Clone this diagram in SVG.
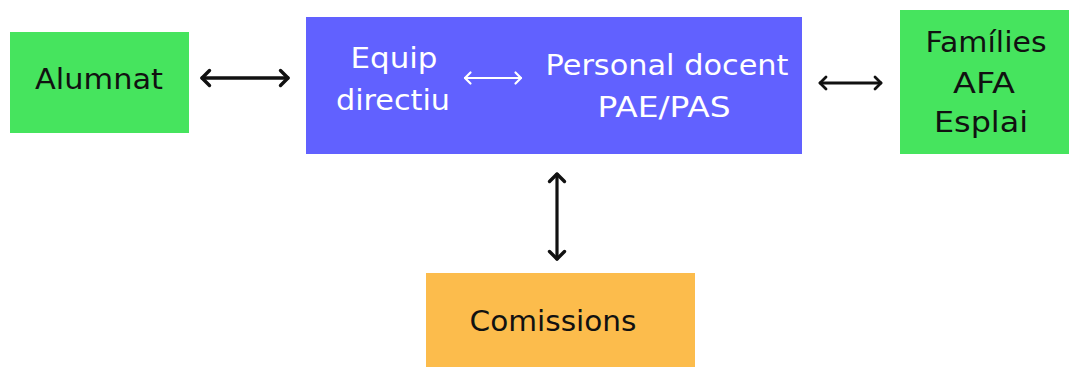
<svg xmlns="http://www.w3.org/2000/svg" width="1069" height="367" viewBox="0 0 1069 367">
<style>
.lbl{font-family:"DejaVu Sans","Noto Sans",sans-serif;font-size:28px;text-anchor:middle}
.dark{fill:#111}
.light{fill:#fff}
.green{fill:#46e45e}
.blue{fill:#6161ff}
.orange{fill:#fcbc4c}
.conn{fill:none;stroke-linecap:round}
</style>
<defs>
<marker id="hb" markerUnits="userSpaceOnUse" markerWidth="20" markerHeight="20" viewBox="-10 -10 20 20" refX="0" refY="0" orient="auto-start-reverse">
<path d="M-7.5,-7.5 L0,0 L-7.5,7.5" fill="none" stroke="#111" stroke-width="3.4" stroke-linecap="round" stroke-linejoin="round"/>
</marker>
<marker id="hbs" markerUnits="userSpaceOnUse" markerWidth="20" markerHeight="20" viewBox="-10 -10 20 20" refX="0" refY="0" orient="auto-start-reverse">
<path d="M-6,-6 L0,0 L-6,6" fill="none" stroke="#111" stroke-width="2.8" stroke-linecap="round" stroke-linejoin="round"/>
</marker>
<marker id="hw" markerUnits="userSpaceOnUse" markerWidth="20" markerHeight="20" viewBox="-10 -10 20 20" refX="0" refY="0" orient="auto-start-reverse">
<path d="M-5.5,-5.5 L0,0 L-5.5,5.5" fill="none" stroke="#fff" stroke-width="2.2" stroke-linecap="round" stroke-linejoin="round"/>
</marker>
</defs>
<rect width="1069" height="367" fill="#fff"/>
<g id="alumnat">
<rect class="green" x="10" y="32" width="179" height="101"/>
<text class="lbl dark" x="99" y="89" textLength="128" lengthAdjust="spacingAndGlyphs">Alumnat</text>
</g>
<g id="centre">
<rect class="blue" x="306" y="17" width="496" height="137"/>
<text class="lbl light" x="394" y="68" textLength="87" lengthAdjust="spacingAndGlyphs">Equip</text>
<text class="lbl light" x="393" y="110" textLength="114" lengthAdjust="spacingAndGlyphs">directiu</text>
<text class="lbl light" x="667" y="75" textLength="243" lengthAdjust="spacingAndGlyphs">Personal docent</text>
<text class="lbl light" x="664" y="117" textLength="133" lengthAdjust="spacingAndGlyphs">PAE/PAS</text>
</g>
<g id="families">
<rect class="green" x="900" y="10" width="169" height="144"/>
<text class="lbl dark" x="986" y="52" textLength="121" lengthAdjust="spacingAndGlyphs">Famílies</text>
<text class="lbl dark" x="984" y="93" textLength="62" lengthAdjust="spacingAndGlyphs">AFA</text>
<text class="lbl dark" x="981" y="132" textLength="94" lengthAdjust="spacingAndGlyphs">Esplai</text>
</g>
<g id="comissions">
<rect class="orange" x="426" y="273" width="269" height="94"/>
<text class="lbl dark" x="553" y="331" textLength="167" lengthAdjust="spacingAndGlyphs">Comissions</text>
</g>
<g id="connectors">
<line class="conn" x1="202" y1="78" x2="288" y2="78" stroke="#111" stroke-width="3.4" marker-start="url(#hb)" marker-end="url(#hb)"/>
<line class="conn" x1="465" y1="78" x2="521" y2="78" stroke="#fff" stroke-width="2.2" marker-start="url(#hw)" marker-end="url(#hw)"/>
<line class="conn" x1="820" y1="83" x2="881" y2="83" stroke="#111" stroke-width="2.8" marker-start="url(#hbs)" marker-end="url(#hbs)"/>
<line class="conn" x1="557" y1="174" x2="557" y2="259" stroke="#111" stroke-width="3.2" marker-start="url(#hb)" marker-end="url(#hb)"/>
</g>
</svg>
